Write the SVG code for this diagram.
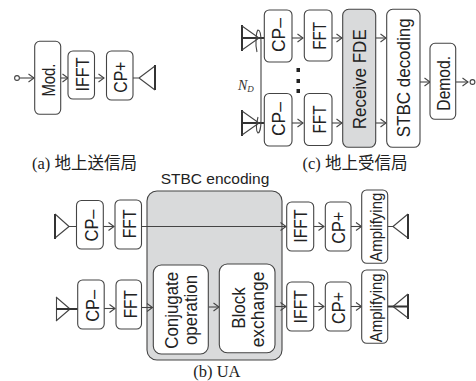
<svg xmlns="http://www.w3.org/2000/svg" width="476" height="381" viewBox="0 0 476 381">
<style>
.b{fill:#fff;stroke:#444;stroke-width:1.1}
.g{fill:#d9dadb;stroke:#444;stroke-width:1.1}
.t{font-family:"Liberation Sans",Arial,sans-serif;font-size:18.6px;fill:#222;text-anchor:middle}
.c{font-family:"Liberation Serif","Noto Sans CJK JP",serif;font-size:16.500px;fill:#222}
.l{fill:none;stroke:#444;stroke-width:1.1}
.h{fill:none;stroke:#333;stroke-width:2}
</style>
<defs>
<marker id="a" markerUnits="userSpaceOnUse" markerWidth="8" markerHeight="12" refX="7" refY="6" orient="auto" overflow="visible"><path d="M1.500 2L7 6L1.500 10" fill="none" stroke="#444" stroke-width="1.1"/></marker>
</defs>
<g id="connectors">
<circle class="l" cx="17" cy="78" r="2.400"/>
<path class="l" marker-end="url(#a)" d="M19.500 78H34"/>
<path class="l" marker-end="url(#a)" d="M60.500 78H68"/>
<path class="l" marker-end="url(#a)" d="M94 78H104"/>
<path class="l" d="M133 78H139M139 78L155 66M139 78L155 90"/><path class="h" d="M155 65V90"/>
<path class="h" d="M242 25V51M242 38H264"/><path class="l" d="M242 26L259 38L242 50"/>
<path class="h" d="M242 110V136M242 123H264"/><path class="l" d="M242 111L259 123L242 135"/>
<path class="l" d="M257 52C255 45 256 32 258 30C260 30 261 36 261 42V120C261 130 259 133 258 133C256 131 256 125 258 117"/>
<path class="l" marker-end="url(#a)" d="M292 38H303"/>
<path class="l" marker-end="url(#a)" d="M332 38H342"/>
<path class="l" marker-end="url(#a)" d="M375.500 38H386"/>
<path class="l" marker-end="url(#a)" d="M292 123H303"/>
<path class="l" marker-end="url(#a)" d="M332 123H342"/>
<path class="l" marker-end="url(#a)" d="M375.500 123H386"/>
<path class="l" marker-end="url(#a)" d="M420 82H430"/>
<path class="l" marker-end="url(#a)" d="M455.500 82H468"/>
<circle class="l" cx="472.500" cy="82" r="2.400"/>
</g>
<g id="ua-box"><rect class="g" x="147" y="191" width="135" height="169" rx="10"/></g>
<g id="connectors-b">
<path class="l" d="M69 226.500H77M69 226.500L55 214M69 226.500L55 238"/><path class="h" d="M55 214V239"/>
<path class="l" d="M70 309L56 297M70 309L56 321M56.500 297V321"/><path class="h" d="M56 309H78"/>
<path class="l" marker-end="url(#a)" d="M103 226.500H114"/>
<path class="l" marker-end="url(#a)" d="M141 226.500H286"/>
<path class="l" marker-end="url(#a)" d="M313.500 226.500H324"/>
<path class="l" marker-end="url(#a)" d="M351 226.500H361.500"/>
<path class="l" d="M387.500 226.500H393M393 226.500L408 214M393 226.500L408 238"/><path class="h" d="M408 214V239"/>
<path class="l" marker-end="url(#a)" d="M104 308.500H115"/>
<path class="l" marker-end="url(#a)" d="M141.500 307.500H152.500"/>
<path class="l" marker-end="url(#a)" d="M208.500 307H219"/>
<path class="l" marker-end="url(#a)" d="M275 306.500H286"/>
<path class="l" marker-end="url(#a)" d="M313.500 306.500H324"/>
<path class="l" marker-end="url(#a)" d="M351 306.500H361.500"/>
<path class="h" d="M387.500 306.500H408M408 294V319"/><path class="l" d="M393 306.500L408 294M393 306.500L408 318"/>
</g>
<g id="mod"><rect class="b" x="34.700" y="41.300" width="26" height="73" rx="5"/><text class="t" font-size="19.500" textLength="33" lengthAdjust="spacingAndGlyphs" transform="translate(55 80) rotate(-90)">Mod.</text></g>
<g id="ifft-a"><rect class="b" x="68" y="51" width="26.500" height="48" rx="5"/><text class="t" textLength="34" lengthAdjust="spacingAndGlyphs" transform="translate(89.300 74.500) rotate(-90)">IFFT</text></g>
<g id="cpp-a"><rect class="b" x="106.500" y="51" width="26.500" height="49" rx="5"/><text class="t" textLength="31" lengthAdjust="spacingAndGlyphs" transform="translate(127.300 77.200) rotate(-90)">CP+</text></g>
<g id="cpm-c1"><rect class="b" x="264.300" y="10" width="27.700" height="52" rx="5"/><text class="t" textLength="34" lengthAdjust="spacingAndGlyphs" transform="translate(285.300 35) rotate(-90)">CP–</text></g>
<g id="fft-c1"><rect class="b" x="304.300" y="10" width="27.700" height="51" rx="5"/><text class="t" textLength="28" lengthAdjust="spacingAndGlyphs" transform="translate(326 35.800) rotate(-90)">FFT</text></g>
<g id="cpm-c2"><rect class="b" x="264.300" y="93.500" width="27.700" height="52.500" rx="5"/><text class="t" textLength="34" lengthAdjust="spacingAndGlyphs" transform="translate(285.300 119) rotate(-90)">CP–</text></g>
<g id="fft-c2"><rect class="b" x="304.300" y="93.500" width="27.700" height="52" rx="5"/><text class="t" textLength="28" lengthAdjust="spacingAndGlyphs" transform="translate(326 119.500) rotate(-90)">FFT</text></g>
<g id="rfde"><rect class="g" x="342.700" y="9.300" width="33" height="138" rx="6"/><text class="t" textLength="100" lengthAdjust="spacingAndGlyphs" transform="translate(366 79.300) rotate(-90)">Receive FDE</text></g>
<g id="stbc-dec"><rect class="b" x="386.700" y="9.300" width="33.300" height="138" rx="6"/><text class="t" textLength="119" lengthAdjust="spacingAndGlyphs" transform="translate(410 77.800) rotate(-90)">STBC decoding</text></g>
<g id="demod"><rect class="b" x="430" y="43.300" width="25.700" height="76" rx="5"/><text class="t" textLength="54.700" lengthAdjust="spacingAndGlyphs" transform="translate(450 83.300) rotate(-90)">Demod.</text></g>
<g id="dots" fill="#222"><rect x="296.500" y="68" width="3.500" height="4"/><rect x="296.500" y="79" width="3.500" height="4"/><rect x="296.500" y="89" width="3.500" height="4"/></g>
<text x="238" y="90" font-family="Liberation Serif,serif" font-style="italic" font-size="14" fill="#333">N<tspan font-size="9" dy="2">D</tspan></text>
<g id="cpm-b1"><rect class="b" x="76.500" y="200.500" width="26.800" height="48.500" rx="5"/><text class="t" textLength="32" lengthAdjust="spacingAndGlyphs" transform="translate(98.300 225.500) rotate(-90)">CP–</text></g>
<g id="fft-b1"><rect class="b" x="115" y="200" width="26.500" height="49" rx="5"/><text class="t" textLength="29" lengthAdjust="spacingAndGlyphs" transform="translate(136 223.800) rotate(-90)">FFT</text></g>
<g id="cpm-b2"><rect class="b" x="77.700" y="280" width="26.500" height="49" rx="5"/><text class="t" textLength="32" lengthAdjust="spacingAndGlyphs" transform="translate(99 305.800) rotate(-90)">CP–</text></g>
<g id="fft-b2"><rect class="b" x="116" y="280" width="25.500" height="49" rx="5"/><text class="t" textLength="28.300" lengthAdjust="spacingAndGlyphs" transform="translate(137 304.200) rotate(-90)">FFT</text></g>
<g id="conj"><rect class="b" x="153.300" y="265" width="55" height="89" rx="8"/><text class="t" textLength="77" lengthAdjust="spacingAndGlyphs" transform="translate(178.300 310.300) rotate(-90)">Conjugate</text><text class="t" textLength="70" lengthAdjust="spacingAndGlyphs" transform="translate(197.300 310) rotate(-90)">operation</text></g>
<g id="block"><rect class="b" x="219.300" y="264" width="55.700" height="88.700" rx="8"/><text class="t" textLength="41.700" lengthAdjust="spacingAndGlyphs" transform="translate(245 308) rotate(-90)">Block</text><text class="t" textLength="75.700" lengthAdjust="spacingAndGlyphs" transform="translate(264.300 309.500) rotate(-90)">exchange</text></g>
<g id="ifft-b1"><rect class="b" x="286.700" y="202" width="27" height="49" rx="5"/><text class="t" textLength="33.400" lengthAdjust="spacingAndGlyphs" transform="translate(307 226) rotate(-90)">IFFT</text></g>
<g id="cpp-b1"><rect class="b" x="325.300" y="202" width="25.700" height="49" rx="5"/><text class="t" textLength="32" lengthAdjust="spacingAndGlyphs" transform="translate(345.300 227.800) rotate(-90)">CP+</text></g>
<g id="amp-b1"><rect class="b" x="361.700" y="190" width="26" height="73.300" rx="5"/><text class="t" font-size="16.300" style="font-size:16.300px" textLength="69" lengthAdjust="spacingAndGlyphs" transform="translate(381.700 227.200) rotate(-90)">Amplifying</text></g>
<g id="ifft-b2"><rect class="b" x="286.700" y="282" width="27" height="49" rx="5"/><text class="t" textLength="33.400" lengthAdjust="spacingAndGlyphs" transform="translate(307 306.700) rotate(-90)">IFFT</text></g>
<g id="cpp-b2"><rect class="b" x="325.300" y="282" width="25.700" height="49" rx="5"/><text class="t" textLength="32" lengthAdjust="spacingAndGlyphs" transform="translate(345.300 308) rotate(-90)">CP+</text></g>
<g id="amp-b2"><rect class="b" x="361.700" y="270" width="26" height="73.300" rx="5"/><text class="t" style="font-size:16.300px" textLength="69" lengthAdjust="spacingAndGlyphs" transform="translate(381.700 307.800) rotate(-90)">Amplifying</text></g>
<text class="t" x="215" y="184" style="font-size:15.500px">STBC encoding</text>
<text class="c" x="32" y="169">(a) 地上送信局</text>
<text class="c" x="302.500" y="169">(c) 地上受信局</text>
<text class="c" x="193.300" y="377">(b) UA</text>
</svg>
